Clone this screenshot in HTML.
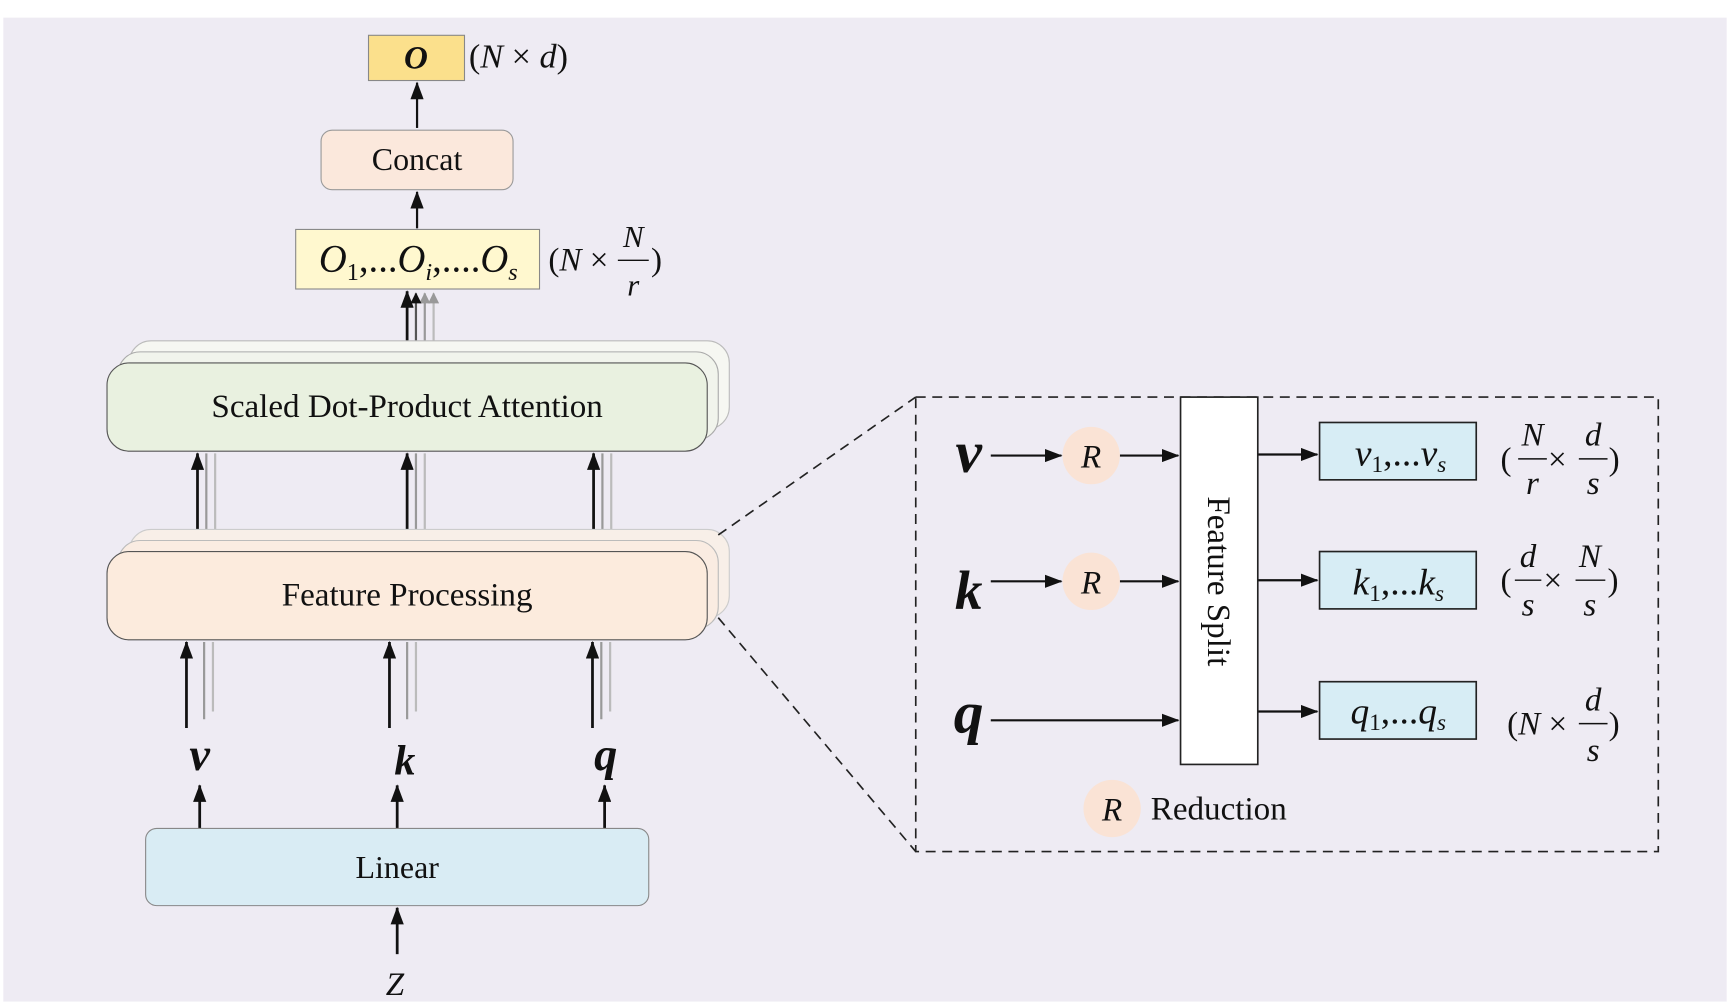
<!DOCTYPE html>
<html><head><meta charset="utf-8"><style>
html,body{margin:0;padding:0;background:#fff;}
svg{display:block;}
text{font-family:"Liberation Serif",serif;fill:#111;}
.i{font-style:italic;}
</style></head><body>
<svg width="1730" height="1006" viewBox="0 0 1568 912" preserveAspectRatio="none" xmlns="http://www.w3.org/2000/svg">
<defs>
<marker id="a" markerWidth="10" markerHeight="10" refX="9" refY="5" orient="auto" markerUnits="userSpaceOnUse"><path d="M0,0 L10,5 L0,10 Z" fill="#111"/></marker>
<marker id="b" markerWidth="16" markerHeight="12" refX="15" refY="6" orient="auto" markerUnits="userSpaceOnUse"><path d="M0,0 L16,6 L0,12 Z" fill="#111"/></marker>
<marker id="g" markerWidth="10" markerHeight="10" refX="9" refY="5" orient="auto" markerUnits="userSpaceOnUse"><path d="M0,0 L10,5 L0,10 Z" fill="#999"/></marker>
</defs>
<rect x="3" y="16" width="1562" height="892" fill="#eeebf3"/>

<!-- output -->
<rect x="334" y="32" width="87" height="41" fill="#fbe08c" stroke="#888"/>
<text x="377" y="62" font-size="30" class="i" font-weight="bold" text-anchor="middle">O</text>
<text x="425" y="61" font-size="31">(<tspan class="i">N</tspan> × <tspan class="i">d</tspan>)</text>
<line x1="378" y1="116" x2="378" y2="75" stroke="#111" stroke-width="2" marker-end="url(#b)"/>

<rect x="291" y="118" width="174" height="54" rx="10" fill="#fbe8dc" stroke="#999"/>
<text x="378" y="154" font-size="29" text-anchor="middle">Concat</text>
<line x1="378" y1="207" x2="378" y2="174" stroke="#111" stroke-width="2" marker-end="url(#b)"/>

<rect x="268" y="208" width="221" height="54" fill="#fff8cf" stroke="#888"/>
<text x="289" y="246" font-size="35" class="i">O<tspan font-size="22" dy="8" font-style="normal">1</tspan><tspan dy="-8" font-style="normal">,...</tspan>O<tspan font-size="22" dy="8">i</tspan><tspan dy="-8" font-style="normal">,....</tspan>O<tspan font-size="22" dy="8">s</tspan></text>
<text x="497" y="245" font-size="30">(<tspan class="i">N</tspan> ×</text>
<text x="574" y="224" font-size="28" class="i" text-anchor="middle">N</text>
<line x1="560" y1="236" x2="588" y2="236" stroke="#111" stroke-width="1.3"/>
<text x="574" y="268" font-size="28" class="i" text-anchor="middle">r</text>
<text x="590" y="245" font-size="30">)</text>

<!-- arrows SDPA->O -->
<line x1="393" y1="310" x2="393" y2="266" stroke="#bbb" stroke-width="2" marker-end="url(#g)"/>
<line x1="385" y1="318" x2="385" y2="266" stroke="#999" stroke-width="2" marker-end="url(#g)"/>
<line x1="377" y1="322" x2="377" y2="266" stroke="#555" stroke-width="2" marker-end="url(#a)"/>
<line x1="369" y1="329" x2="369" y2="264" stroke="#111" stroke-width="2.5" marker-end="url(#b)"/>

<!-- SDPA -->
<rect x="117" y="309" width="544" height="80" rx="20" fill="#f6f7f2" stroke="#bbb"/>
<rect x="107" y="319" width="544" height="80" rx="20" fill="#f1f4ec" stroke="#aaa"/>
<rect x="97" y="329" width="544" height="80" rx="20" fill="#e9f1e0" stroke="#555"/>
<text x="369" y="378" font-size="30" text-anchor="middle">Scaled Dot-Product Attention</text>

<!-- FP -> SDPA arrows -->
<g stroke-width="2">
<line x1="195" y1="480" x2="195" y2="411" stroke="#bbb"/><line x1="187" y1="490" x2="187" y2="411" stroke="#999"/>
<line x1="385" y1="480" x2="385" y2="411" stroke="#bbb"/><line x1="377" y1="490" x2="377" y2="411" stroke="#999"/>
<line x1="554" y1="480" x2="554" y2="411" stroke="#bbb"/><line x1="546" y1="490" x2="546" y2="411" stroke="#999"/>
</g>
<line x1="179" y1="500" x2="179" y2="411" stroke="#111" stroke-width="2.5" marker-end="url(#b)"/>
<line x1="369" y1="500" x2="369" y2="411" stroke="#111" stroke-width="2.5" marker-end="url(#b)"/>
<line x1="538" y1="500" x2="538" y2="411" stroke="#111" stroke-width="2.5" marker-end="url(#b)"/>

<!-- FP -->
<rect x="117" y="480" width="544" height="80" rx="20" fill="#f8efe8" stroke="#ccc"/>
<rect x="107" y="490" width="544" height="80" rx="20" fill="#faece2" stroke="#bbb"/>
<rect x="97" y="500" width="544" height="80" rx="20" fill="#fcebdd" stroke="#555"/>
<text x="369" y="549" font-size="30" text-anchor="middle">Feature Processing</text>

<g stroke-width="2">
<line x1="193" y1="645" x2="193" y2="582" stroke="#bbb"/><line x1="185" y1="652" x2="185" y2="582" stroke="#999"/>
<line x1="377" y1="645" x2="377" y2="582" stroke="#bbb"/><line x1="369" y1="652" x2="369" y2="582" stroke="#999"/>
<line x1="553" y1="645" x2="553" y2="582" stroke="#bbb"/><line x1="545" y1="652" x2="545" y2="582" stroke="#999"/>
</g>
<line x1="169" y1="660" x2="169" y2="582" stroke="#111" stroke-width="2.5" marker-end="url(#b)"/>
<line x1="353" y1="660" x2="353" y2="582" stroke="#111" stroke-width="2.5" marker-end="url(#b)"/>
<line x1="537" y1="660" x2="537" y2="582" stroke="#111" stroke-width="2.5" marker-end="url(#b)"/>

<text x="181" y="698" font-size="42" class="i" font-weight="bold" text-anchor="middle">v</text>
<text x="367" y="702" font-size="38" class="i" font-weight="bold" text-anchor="middle">k</text>
<text x="549" y="698" font-size="42" class="i" font-weight="bold" text-anchor="middle">q</text>

<line x1="181" y1="751" x2="181" y2="712" stroke="#111" stroke-width="2.5" marker-end="url(#b)"/>
<line x1="360" y1="751" x2="360" y2="712" stroke="#111" stroke-width="2.5" marker-end="url(#b)"/>
<line x1="548" y1="751" x2="548" y2="712" stroke="#111" stroke-width="2.5" marker-end="url(#b)"/>

<rect x="132" y="751" width="456" height="70" rx="10" fill="#d9ecf4" stroke="#888"/>
<text x="360" y="796" font-size="29" text-anchor="middle">Linear</text>
<line x1="360" y1="865" x2="360" y2="823" stroke="#111" stroke-width="2.5" marker-end="url(#b)"/>
<text x="358" y="902" font-size="30" class="i" text-anchor="middle">Z</text>

<!-- zoom lines -->
<g stroke="#222" stroke-width="1.5" stroke-dasharray="9,6" fill="none">
<line x1="651" y1="485" x2="830" y2="360"/>
<line x1="651" y1="560" x2="830" y2="772"/>
<rect x="830" y="360" width="673" height="412"/>
</g>

<!-- detail -->
<text x="878" y="428" font-size="54" class="i" font-weight="bold" text-anchor="middle">v</text>
<text x="878" y="552" font-size="50" class="i" font-weight="bold" text-anchor="middle">k</text>
<text x="878" y="664" font-size="54" class="i" font-weight="bold" text-anchor="middle">q</text>
<g stroke="#111" stroke-width="2">
<line x1="898" y1="413" x2="962" y2="413" marker-end="url(#b)"/>
<line x1="1015" y1="413" x2="1068" y2="413" marker-end="url(#b)"/>
<line x1="898" y1="527" x2="962" y2="527" marker-end="url(#b)"/>
<line x1="1015" y1="527" x2="1068" y2="527" marker-end="url(#b)"/>
<line x1="898" y1="653" x2="1068" y2="653" marker-end="url(#b)"/>
<line x1="1140" y1="412" x2="1194" y2="412" marker-end="url(#b)"/>
<line x1="1140" y1="526" x2="1194" y2="526" marker-end="url(#b)"/>
<line x1="1140" y1="645" x2="1194" y2="645" marker-end="url(#b)"/>
</g>
<circle cx="989" cy="413" r="26" fill="#fae3d5"/>
<text x="989" y="424" font-size="30" class="i" text-anchor="middle">R</text>
<circle cx="989" cy="527" r="26" fill="#fae3d5"/>
<text x="989" y="538" font-size="30" class="i" text-anchor="middle">R</text>

<rect x="1070" y="360" width="70" height="333" fill="#fff" stroke="#222" stroke-width="1.5"/>
<text transform="translate(1095,527) rotate(90)" font-size="30" text-anchor="middle">Feature Split</text>

<g fill="#d7edf5" stroke="#222" stroke-width="1.5">
<rect x="1196" y="383" width="142" height="52"/>
<rect x="1196" y="500" width="142" height="52"/>
<rect x="1196" y="618" width="142" height="52"/>
</g>
<text x="1228" y="422" font-size="34" class="i">v<tspan font-size="21" dy="6" font-style="normal">1</tspan><tspan dy="-6" font-style="normal">,...</tspan>v<tspan font-size="21" dy="6">s</tspan></text>
<text x="1226" y="539" font-size="34" class="i">k<tspan font-size="21" dy="6" font-style="normal">1</tspan><tspan dy="-6" font-style="normal">,...</tspan>k<tspan font-size="21" dy="6">s</tspan></text>
<text x="1224" y="656" font-size="34" class="i">q<tspan font-size="21" dy="6" font-style="normal">1</tspan><tspan dy="-6" font-style="normal">,...</tspan>q<tspan font-size="21" dy="6">s</tspan></text>

<g font-size="30">
<text x="1360" y="426">(</text>
<text x="1389" y="404" class="i" text-anchor="middle">N</text>
<line x1="1376" y1="416" x2="1402" y2="416" stroke="#111" stroke-width="1.3"/>
<text x="1389" y="448" class="i" text-anchor="middle">r</text>
<text x="1403" y="426">×</text>
<text x="1444" y="404" class="i" text-anchor="middle">d</text>
<line x1="1431" y1="416" x2="1457" y2="416" stroke="#111" stroke-width="1.3"/>
<text x="1444" y="448" class="i" text-anchor="middle">s</text>
<text x="1458" y="426">)</text>

<text x="1360" y="536">(</text>
<text x="1385" y="514" class="i" text-anchor="middle">d</text>
<line x1="1373" y1="526" x2="1397" y2="526" stroke="#111" stroke-width="1.3"/>
<text x="1385" y="558" class="i" text-anchor="middle">s</text>
<text x="1399" y="536">×</text>
<text x="1441" y="514" class="i" text-anchor="middle">N</text>
<line x1="1428" y1="526" x2="1455" y2="526" stroke="#111" stroke-width="1.3"/>
<text x="1441" y="558" class="i" text-anchor="middle">s</text>
<text x="1457" y="536">)</text>

<text x="1366" y="666">(<tspan class="i">N</tspan> ×</text>
<text x="1444" y="644" class="i" text-anchor="middle">d</text>
<line x1="1431" y1="656" x2="1457" y2="656" stroke="#111" stroke-width="1.3"/>
<text x="1444" y="690" class="i" text-anchor="middle">s</text>
<text x="1458" y="666">)</text>
</g>

<circle cx="1008" cy="733" r="26" fill="#fae3d5"/>
<text x="1008" y="744" font-size="30" class="i" text-anchor="middle">R</text>
<text x="1043" y="743" font-size="30">Reduction</text>
</svg>
</body></html>
